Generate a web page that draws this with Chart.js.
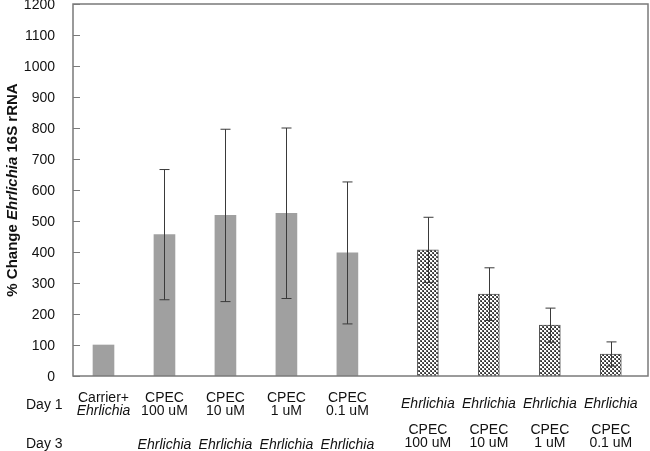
<!DOCTYPE html>
<html>
<head>
<meta charset="utf-8">
<script src="https://cdn.jsdelivr.net/npm/chart.js@4/dist/chart.umd.min.js"></script>
<style>
  html, body { margin: 0; padding: 0; background: #fff; }
  #wrap { width: 650px; height: 451px; position: relative; }
</style>
</head>
<body>
<div id="wrap"><canvas id="myChart"></canvas></div>
<script>
// slot index of each bar along the x axis (second group sits a bit further right)
const xPos = [1, 2, 3, 4, 5, 6.32, 7.32, 8.32, 9.32];
const means = [100, 456, 518, 525, 397, 407, 264, 164, 71];
const errors = [0, 210, 278, 275, 229, 105, 85, 55, 39];
const day1Top = ['Carrier+', 'CPEC', 'CPEC', 'CPEC', 'CPEC', 'Ehrlichia', 'Ehrlichia', 'Ehrlichia', 'Ehrlichia'];
const day1Bottom = ['Ehrlichia', '100 uM', '10 uM', '1 uM', '0.1 uM', '', '', '', ''];
const day3Top = ['', 'Ehrlichia', 'Ehrlichia', 'Ehrlichia', 'Ehrlichia', 'CPEC', 'CPEC', 'CPEC', 'CPEC'];
const day3Bottom = ['', '', '', '', '', '100 uM', '10 uM', '1 uM', '0.1 uM'];
const yTicks = { min: 0, max: 1200, step: 100 };

const FONT = '"Liberation Sans", Arial, sans-serif';

// checker fill for the second group
function makePattern() {
    const c = document.createElement('canvas');
    c.width = 4; c.height = 4;
    const g = c.getContext('2d');
    g.fillStyle = '#ffffff';
    g.fillRect(0, 0, 4, 4);
    g.fillStyle = '#5a5a5a';
    for (let x = 0; x < 4; x++) {
        for (let y = 0; y < 4; y++) {
            if (((x >> 1) + (y >> 1)) % 2 === 0) g.fillRect(x, y, 1, 1);
        }
    }
    g.fillStyle = '#222';
    g.fillRect(1, 1, 1, 1);
    g.fillRect(3, 3, 1, 1);
    return g.createPattern(c, 'repeat');
}
const hatch = makePattern();

const fills = xPos.map((_, i) => i < 5 ? '#a0a0a0' : hatch);
const borders = xPos.map((_, i) => i < 5 ? 'rgba(0,0,0,0)' : '#555555');
const borderW = xPos.map((_, i) => i < 5 ? 0 : 1);

const extras = {
    id: 'extras',
    afterDatasetsDraw(chart) {
        const ctx = chart.ctx;
        const xs = chart.scales.x, ys = chart.scales.y;
        ctx.save();
        ctx.strokeStyle = '#3a3a3a';
        ctx.lineWidth = 1;
        means.forEach((m, i) => {
            if (!errors[i]) return;
            const px = Math.round(xs.getPixelForValue(xPos[i])) + 0.5;
            const top = ys.getPixelForValue(m + errors[i]);
            const bot = ys.getPixelForValue(m - errors[i]);
            ctx.beginPath();
            ctx.moveTo(px, top); ctx.lineTo(px, bot);
            ctx.moveTo(px - 5, top); ctx.lineTo(px + 5, top);
            ctx.moveTo(px - 5, bot); ctx.lineTo(px + 5, bot);
            ctx.stroke();
        });
        ctx.restore();
    },
    afterDraw(chart) {
        const ctx = chart.ctx;
        const a = chart.chartArea;
        const xs = chart.scales.x, ys = chart.scales.y;
        ctx.save();

        // plot frame, inward ticks and tick labels
        ctx.strokeStyle = '#7a7a7a';
        ctx.lineWidth = 1.5;
        ctx.strokeRect(a.left, a.top, a.right - a.left, a.bottom - a.top);
        ctx.lineWidth = 1;
        ctx.fillStyle = '#111';
        ctx.font = '14px ' + FONT;
        ctx.textAlign = 'right';
        ctx.textBaseline = 'middle';
        for (let v = yTicks.min; v <= yTicks.max; v += yTicks.step) {
            const py = Math.round(ys.getPixelForValue(v)) + 0.5;
            ctx.beginPath();
            ctx.moveTo(a.left, py); ctx.lineTo(a.left + 7, py);
            ctx.stroke();
            ctx.fillText(String(v), a.left - 18, py + 1);
        }

        // category labels
        ctx.textAlign = 'center';
        const put = (t, x, y) => {
            if (!t) return;
            ctx.font = (t === 'Ehrlichia' ? 'italic ' : '') + '14px ' + FONT;
            ctx.fillText(t, x, y);
        };
        xPos.forEach((p, i) => {
            const px = xs.getPixelForValue(p);
            if (day1Bottom[i]) { put(day1Top[i], px, 398); put(day1Bottom[i], px, 411); }
            else put(day1Top[i], px, 404);
            if (day3Bottom[i]) { put(day3Top[i], px, 430); put(day3Bottom[i], px, 443); }
            else put(day3Top[i], px, 445);
        });
        ctx.textAlign = 'left';
        ctx.font = '14px ' + FONT;
        ctx.fillText('Day 1', 26, 405);
        ctx.fillText('Day 3', 26, 444);

        // y title with italic genus name
        const parts = [['bold ', '% Change '], ['italic bold ', 'Ehrlichia'], ['bold ', ' 16S rRNA']];
        let total = 0;
        parts.forEach(p => { ctx.font = p[0] + '15px ' + FONT; total += ctx.measureText(p[1]).width; });
        ctx.translate(13, (a.top + a.bottom) / 2);
        ctx.rotate(-Math.PI / 2);
        let cx = -total / 2;
        parts.forEach(p => {
            ctx.font = p[0] + '15px ' + FONT;
            ctx.fillText(p[1], cx, 0);
            cx += ctx.measureText(p[1]).width;
        });
        ctx.restore();
    }
};

new Chart(document.getElementById('myChart'), {
    type: 'bar',
    data: {
        datasets: [{
            data: means.map((m, i) => ({ x: xPos[i], y: m })),
            backgroundColor: fills,
            borderColor: borders,
            borderWidth: borderW,
            barThickness: 21
        }]
    },
    options: {
        responsive: true,
        maintainAspectRatio: false,
        animation: false,
        layout: { padding: { top: 4, right: 2, bottom: 75, left: 0 } },
        plugins: { legend: { display: false }, tooltip: { enabled: false } },
        scales: {
            x: {
                type: 'linear',
                display: false,
                offset: false,
                min: 0.5,
                max: 9.93
            },
            y: {
                min: yTicks.min,
                max: yTicks.max,
                grid: { display: false },
                border: { display: false },
                ticks: { display: false, stepSize: yTicks.step },
                afterFit(scale) { scale.width = 73; }
            }
        }
    },
    plugins: [extras]
});
</script>
</body>
</html>
